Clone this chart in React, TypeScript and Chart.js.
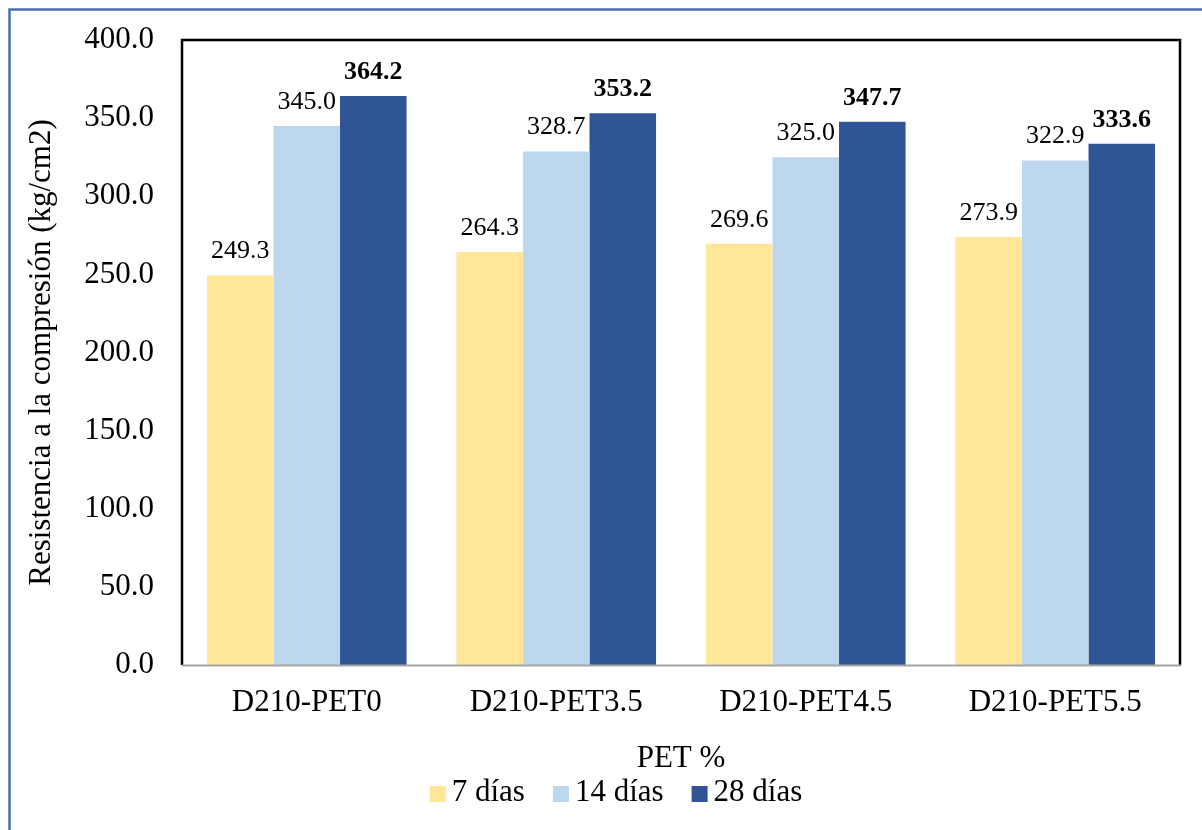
import React, { useEffect, useRef } from "react";
import { Chart, registerables } from "chart.js";

Chart.register(...registerables);

// Compressive strength (kg/cm2) per mix and curing age
const categories = ["D210-PET0", "D210-PET3.5", "D210-PET4.5", "D210-PET5.5"];
const dias7 = [249.3, 264.3, 269.6, 273.9];
const dias14 = [345.0, 328.7, 325.0, 322.9];
const dias28 = [364.2, 353.2, 347.7, 333.6];
const seriesLabels = ["7 días", "14 días", "28 días"];
const seriesColors = ["#FFE699", "#BDD7EE", "#2F5597"];

const yMin = 0;
const yMax = 400;
const yStep = 50;

const FONT = "'Liberation Serif', 'Times New Roman', Times, serif";
const W = 1202;
const H = 830;

// Frame: outer blue border plus the black plot box with a grey baseline
const framePlugin = {
  id: "frame",
  afterDatasetsDraw(chart: any) {
    const { ctx, chartArea } = chart;
    const { left, top, right, bottom } = chartArea;
    ctx.save();
    ctx.strokeStyle = "#4A6EB0";
    ctx.lineWidth = 2.5;
    ctx.beginPath();
    ctx.moveTo(W, 9.5);
    ctx.lineTo(9.5, 9.5);
    ctx.lineTo(9.5, H);
    ctx.stroke();

    ctx.strokeStyle = "#000000";
    ctx.lineWidth = 2.5;
    ctx.beginPath();
    ctx.moveTo(left, bottom);
    ctx.lineTo(left, top);
    ctx.lineTo(right, top);
    ctx.lineTo(right, bottom);
    ctx.stroke();

    ctx.strokeStyle = "#A6A6A6";
    ctx.lineWidth = 2;
    ctx.beginPath();
    ctx.moveTo(left, bottom + 0.5);
    ctx.lineTo(right + 1, bottom + 0.5);
    ctx.stroke();
    ctx.restore();
  },
};

// Value labels above each bar; the 28-day values are bold
const valueLabelPlugin = {
  id: "valueLabels",
  afterDatasetsDraw(chart: any) {
    const { ctx } = chart;
    ctx.save();
    ctx.fillStyle = "#000000";
    ctx.textAlign = "center";
    ctx.textBaseline = "alphabetic";
    chart.data.datasets.forEach((ds: any, di: number) => {
      const meta = chart.getDatasetMeta(di);
      ctx.font = `${di === 2 ? "bold " : ""}26px ${FONT}`;
      meta.data.forEach((bar: any, i: number) => {
        const v = ds.data[i] as number;
        ctx.fillText(v.toFixed(1), bar.x, bar.y - 17);
      });
    });
    ctx.restore();
  },
};

// Legend row under the axis title
const legendPlugin = {
  id: "bottomLegend",
  afterDraw(chart: any) {
    const { ctx } = chart;
    const font = `31px ${FONT}`;
    const box = 16;
    const textGap = 6;
    const itemGap = 28;
    const centerX = 616;
    const centerY = 793;
    ctx.save();
    ctx.font = font;
    const widths = chart.data.datasets.map(
      (ds: any) => box + textGap + ctx.measureText(ds.label).width
    );
    const total =
      widths.reduce((a: number, b: number) => a + b, 0) +
      itemGap * (widths.length - 1);
    let x = centerX - total / 2;
    chart.data.datasets.forEach((ds: any, i: number) => {
      ctx.fillStyle = ds.backgroundColor;
      ctx.fillRect(x, centerY - box / 2 + 1, box, box);
      ctx.fillStyle = "#000000";
      ctx.textAlign = "left";
      ctx.textBaseline = "middle";
      ctx.fillText(ds.label, x + box + textGap, centerY);
      x += widths[i] + itemGap;
    });
    ctx.restore();
  },
};

export default function App() {
  const canvasRef = useRef<HTMLCanvasElement | null>(null);

  useEffect(() => {
    if (!canvasRef.current) return;
    const seriesData = [dias7, dias14, dias28];
    const chart = new Chart(canvasRef.current, {
      type: "bar",
      data: {
        labels: categories,
        datasets: seriesLabels.map((label, i) => ({
          label,
          data: seriesData[i],
          backgroundColor: seriesColors[i],
          borderWidth: 0,
          categoryPercentage: 0.8,
          barPercentage: 1.0,
        })),
      },
      options: {
        animation: false,
        responsive: false,
        devicePixelRatio: 1,
        layout: { padding: { top: 40, right: 22, left: 0, bottom: 0 } },
        plugins: {
          legend: { display: false },
          tooltip: { enabled: false },
        },
        scales: {
          x: {
            grid: { display: false, drawTicks: false },
            border: { display: false },
            ticks: {
              color: "#000000",
              font: { family: FONT, size: 31 },
              padding: 19,
              maxRotation: 0,
            },
            title: {
              display: true,
              text: "PET %",
              color: "#000000",
              font: { family: FONT, size: 31 },
              padding: { top: 0, bottom: 53 },
            },
            afterFit(scale: any) {
              scale.height = 165;
              scale.paddingLeft = 0;
              scale.paddingRight = 0;
            },
          },
          y: {
            min: yMin,
            max: yMax,
            grid: { display: false, drawTicks: false },
            border: { display: false },
            ticks: {
              stepSize: yStep,
              color: "#000000",
              font: { family: FONT, size: 31 },
              padding: 28,
              callback: (v: any) => Number(v).toFixed(1),
            },
            title: {
              display: true,
              text: "Resistencia a la compresión (kg/cm2)",
              color: "#000000",
              font: { family: FONT, size: 31 },
              padding: { top: 23, bottom: 0 },
            },
            afterFit(scale: any) {
              scale.width = 182;
              scale.paddingTop = 0;
              scale.paddingBottom = 0;
            },
          },
        },
      },
      plugins: [framePlugin, valueLabelPlugin, legendPlugin],
    });
    return () => chart.destroy();
  }, []);

  return (
    <div
      style={{
        position: "absolute",
        left: 0,
        top: 0,
        width: W,
        height: H,
        background: "#ffffff",
      }}
    >
      <canvas ref={canvasRef} width={W} height={H} style={{ display: "block" }} />
    </div>
  );
}
